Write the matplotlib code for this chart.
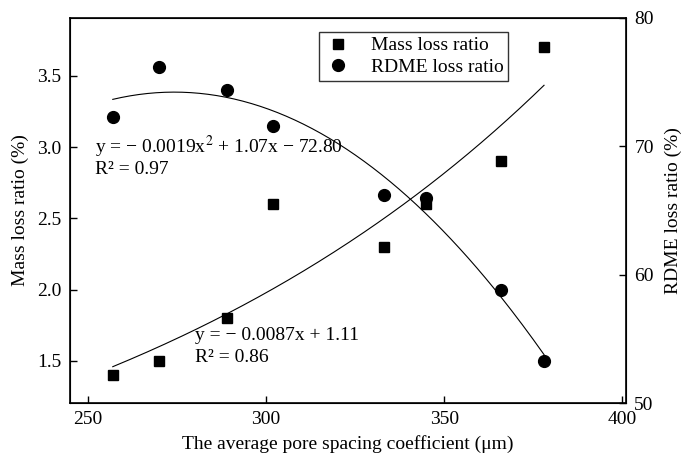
import numpy as np
import matplotlib
matplotlib.use("Agg")
import matplotlib.pyplot as plt

plt.rcParams['font.family'] = ['Liberation Serif', 'DejaVu Serif']
plt.rcParams['mathtext.fontset'] = 'stix'

# pore spacing coefficient (um)
spacing = np.array([257, 270, 289, 302, 333, 345, 366, 378])
# mass loss ratio (%)
mass_loss = np.array([1.4, 1.5, 1.8, 2.6, 2.3, 2.6, 2.9, 3.7])
# RDME loss ratio (%)
rdme_loss = np.array([72.3, 76.2, 74.4, 71.6, 66.2, 66.0, 58.8, 53.3])

fs = 14

fig = plt.figure(figsize=(6.84, 4.59), dpi=100)
ax = fig.add_axes([70/684, 1 - 403/459, (626-70)/684, (403-18)/459])
ax2 = ax.twinx()

# trend lines
xs = np.linspace(spacing.min(), spacing.max(), 200)
b, a = np.polyfit(spacing, np.log(mass_loss), 1)
ax.plot(xs, np.exp(a + b*xs), color='black', lw=0.8)
q = np.polyfit(spacing, rdme_loss, 2)
ax2.plot(xs, np.polyval(q, xs), color='black', lw=0.8)

l1, = ax.plot(spacing, mass_loss, 's', color='black', ms=7, label='Mass loss ratio')
l2, = ax2.plot(spacing, rdme_loss, 'o', color='black', ms=8.5, label='RDME loss ratio')

ax.set_xlim(245, 401)
ax.set_ylim(1.205, 3.905)
ax2.set_ylim(50, 80)
ax.set_xticks([250, 300, 350, 400])
ax.set_yticks([1.5, 2.0, 2.5, 3.0, 3.5])
ax2.set_yticks([50, 60, 70, 80])

ax.tick_params(axis='both', direction='in', length=5, width=1, labelsize=fs, pad=6)
ax2.tick_params(axis='y', direction='in', length=5, width=1, labelsize=fs, pad=6)
for s in ax.spines.values():
    s.set_linewidth(1.2)

ax.set_xlabel('The average pore spacing coefficient (μm)', fontsize=fs, labelpad=5)
ax.set_ylabel('Mass loss ratio (%)', fontsize=fs, labelpad=6)
ax2.set_ylabel('RDME loss ratio (%)', fontsize=fs, labelpad=8)

ax.text(95/684, 1 - 147/459, 'y = − 0.0019x$^2$ + 1.07x − 72.80',
        transform=fig.transFigure, fontsize=fs, va='center')
ax.text(95/684, 1 - 169/459, 'R² = 0.97', transform=fig.transFigure, fontsize=fs, va='center')
ax.text(195/684, 1 - 336/459, 'y = − 0.0087x + 1.11', transform=fig.transFigure, fontsize=fs, va='center')
ax.text(195/684, 1 - 358/459, 'R² = 0.86', transform=fig.transFigure, fontsize=fs, va='center')

leg = ax.legend(handles=[l1, l2], loc='upper left', bbox_to_anchor=(319/684, 1 - 32/459),
                bbox_transform=fig.transFigure, fontsize=fs, frameon=True, fancybox=False,
                edgecolor='black', borderpad=0.25, borderaxespad=0, handletextpad=0.9,
                labelspacing=0.2, handlelength=1.5)
leg.get_frame().set_linewidth(1.0)

fig.savefig('out.png', dpi=100)
